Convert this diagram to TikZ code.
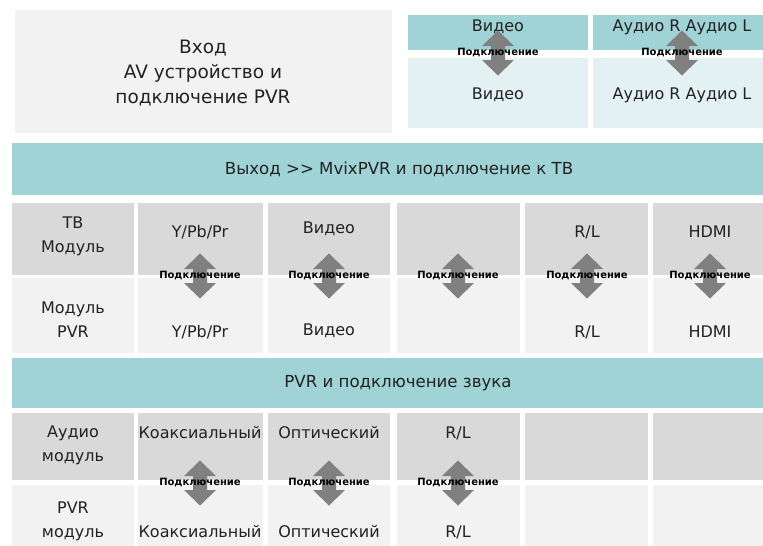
\documentclass[tikz,border=0pt]{standalone}
\usepackage{fontspec}
\setmainfont{DejaVu Sans}
\usetikzlibrary{positioning}

\definecolor{hdrteal}{HTML}{9FD3D6}
\definecolor{paleteal}{HTML}{E4F1F3}
\definecolor{boxgray}{HTML}{F2F2F2}
\definecolor{rowgray}{HTML}{D9D9D9}
\definecolor{rowlight}{HTML}{F2F2F2}
\definecolor{arrgray}{HTML}{808080}
\definecolor{ink}{HTML}{222222}

\tikzset{
    cell/.style={anchor=north west, inner sep=0pt, outer sep=0pt},
    txt/.style={text=ink, align=center, inner sep=0pt, font=\fontsize{16}{24}\selectfont},
    bigtxt/.style={txt, font=\fontsize{18.5}{25}\selectfont},
    hdrtxt/.style={txt, font=\fontsize{16.6}{24}\selectfont},
    linklabel/.style={text=black, inner sep=0pt, font=\bfseries\fontsize{10}{10}\selectfont},
    pics/linkarrow/.style={code={
        \fill[arrgray] (0,-22.5) -- (16,-7) -- (7,-7) -- (7,7) -- (16,7) -- (0,22.5)
                       -- (-16,7) -- (-7,7) -- (-7,-7) -- (-16,-7) -- cycle;
    }},
}

\begin{document}
\begin{tikzpicture}[x=1pt, y=-1pt]

    \useasboundingbox[fill=white] (0,0) rectangle (763,546);

    % input block
    \node[cell, fill=boxgray, minimum width=377pt, minimum height=123pt]   (inbox)   at (15,10)   {};
    \node[bigtxt]  (intext)    at (203,73)           {Вход\\AV устройство и\\подключение PVR};

    \node[cell, fill=hdrteal,  minimum width=180pt, minimum height=35pt]   (vidtop)  at (408,15)  {};
    \node[cell, fill=paleteal, minimum width=180pt, minimum height=70pt]   (vidbot)  at (408,58)  {};
    \node[cell, fill=hdrteal,  minimum width=175pt, minimum height=35pt]   (audtop)  at (593,15)  {};
    \node[cell, fill=paleteal, minimum width=175pt, minimum height=70pt]   (audbot)  at (593,58)  {};

    \node[txt]     (vidtoptxt) at (498,27)           {Видео};
    \node[txt]     (vidbottxt) at (498,95)           {Видео};
    \node[txt]     (audtoptxt) at (682,27)           {Аудио R Аудио L};
    \node[txt]     (audbottxt) at (682,95)           {Аудио R Аудио L};

    \pic (vidlink) at (498,53) {linkarrow};
    \node[linklabel] (vidlinktxt) at (498,53) {Подключение};
    \pic (audlink) at (682,53) {linkarrow};
    \node[linklabel] (audlinktxt) at (682,53) {Подключение};

    % output to TV
    \node[cell, fill=hdrteal, minimum width=753pt, minimum height=52pt]    (outhdr)  at (12,143)  {};
    \node[hdrtxt]  (outhdrtxt) at (399,169)  {Выход >{}> MvixPVR и подключение к ТВ};

    \foreach \cx/\cw/\nm in {12/122/a, 138/125/b, 268/122/c, 397/123/d, 525/123/e, 653/112/f} {
        \node[cell, fill=rowgray,  minimum width=\cw pt, minimum height=72pt] (tv\nm)  at (\cx,203) {};
        \node[cell, fill=rowlight, minimum width=\cw pt, minimum height=75pt] (pvr\nm) at (\cx,278) {};
    }

    \node[txt]     (tvname)   at (73,236)    {ТВ\\Модуль};
    \node[txt]     (pvrname)  at (73,320)    {Модуль\\PVR};
    \node[txt]     (tvypb)    at (200,232)   {Y/Pb/Pr};
    \node[txt]     (pvrypb)   at (200,332)   {Y/Pb/Pr};
    \node[txt]     (tvvid)    at (329,229)   {Видео};
    \node[txt]     (pvrvid)   at (329,331)   {Видео};
    \node[txt]     (tvrl)     at (587,232)   {R/L};
    \node[txt]     (pvrrl)    at (587,332)   {R/L};
    \node[txt]     (tvhdmi)   at (710,232)   {HDMI};
    \node[txt]     (pvrhdmi)  at (710,332)   {HDMI};

    \foreach \cx/\nm in {200/ypb, 329/vid, 458/free, 587/rl, 710/hdmi} {
        \pic (tvlink\nm) at (\cx,276) {linkarrow};
        \node[linklabel] (tvlinktxt\nm) at (\cx,276) {Подключение};
    }

    % sound
    \node[cell, fill=hdrteal, minimum width=753pt, minimum height=50pt]    (sndhdr)  at (12,358)  {};
    \node[hdrtxt]  (sndhdrtxt) at (398,383)  {PVR и подключение звука};

    \foreach \cx/\cw/\nm in {12/122/a, 138/125/b, 268/122/c, 397/123/d, 525/123/e, 653/112/f} {
        \node[cell, fill=rowgray,  minimum width=\cw pt, minimum height=67pt] (aud\nm)  at (\cx,413) {};
        \node[cell, fill=rowlight, minimum width=\cw pt, minimum height=62pt] (mod\nm)  at (\cx,485) {};
    }

    \node[txt]     (audname)  at (73,445)    {Аудио\\модуль};
    \node[txt]     (modname)  at (73,521)    {PVR\\модуль};
    \node[txt]     (audcoax)  at (200,433)   {Коаксиальный};
    \node[txt]     (modcoax)  at (200,532)   {Коаксиальный};
    \node[txt]     (audopt)   at (329,433)   {Оптический};
    \node[txt]     (modopt)   at (329,532)   {Оптический};
    \node[txt]     (audrl)    at (458,433)   {R/L};
    \node[txt]     (modrl)    at (458,532)   {R/L};

    \foreach \cx/\nm in {200/coax, 329/opt, 458/rl} {
        \pic (sndlink\nm) at (\cx,483) {linkarrow};
        \node[linklabel] (sndlinktxt\nm) at (\cx,483) {Подключение};
    }

\end{tikzpicture}
\end{document}
